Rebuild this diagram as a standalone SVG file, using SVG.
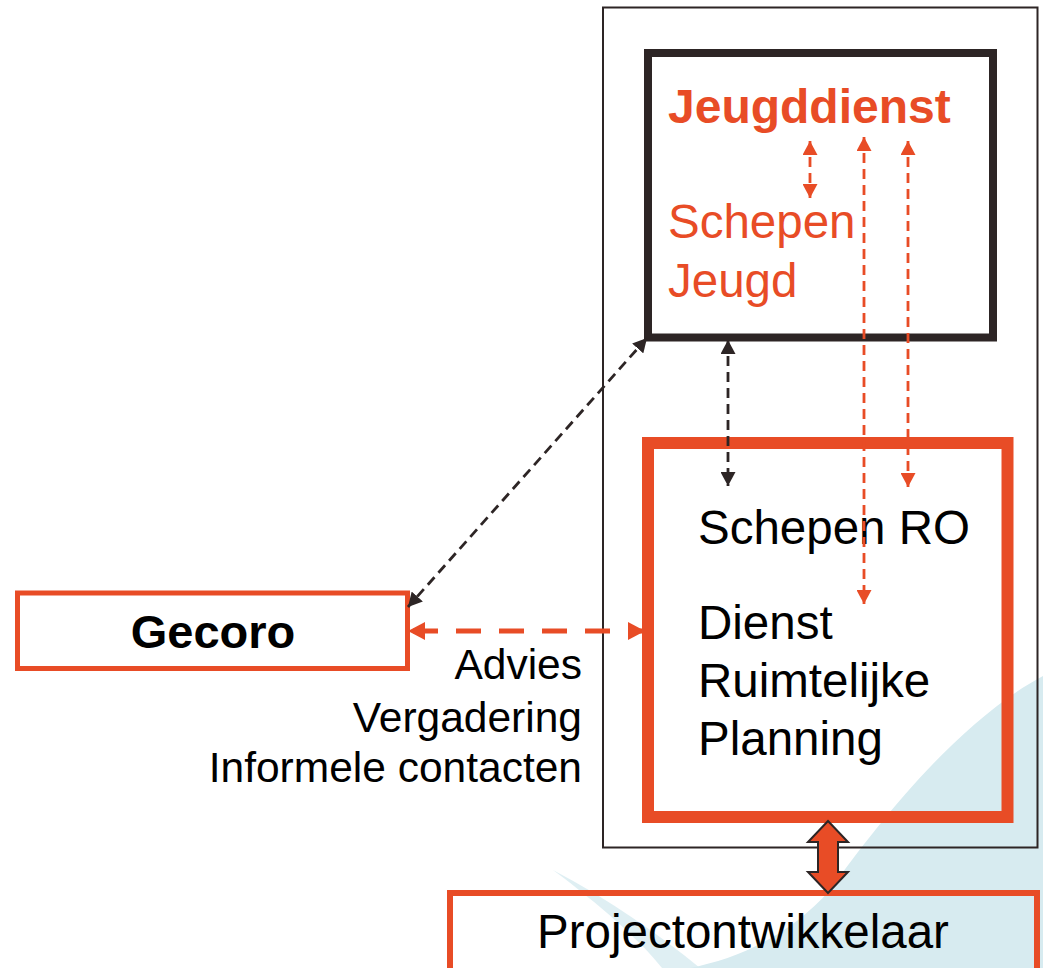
<svg xmlns="http://www.w3.org/2000/svg" width="1043" height="968" viewBox="0 0 1043 968">
<style>
.or{fill:#e84c26}
.dk{fill:#000}
text{font-family:"Liberation Sans",Arial,sans-serif}
.box{fill:none}
.dash-or{stroke:#e84c26;stroke-width:2.8;stroke-dasharray:10 6;fill:none}
.dash-dk{stroke:#2d2525;stroke-width:2.8;stroke-dasharray:10 6;fill:none}
</style>
<defs>
<marker id="aOr" viewBox="0 0 14 15" refX="14" refY="7.5" markerWidth="14" markerHeight="15" markerUnits="userSpaceOnUse" orient="auto-start-reverse"><path d="M0,0 L14,7.5 L0,15 z" fill="#e84c26"/></marker>
<marker id="aDk" viewBox="0 0 14 15" refX="14" refY="7.5" markerWidth="14" markerHeight="15" markerUnits="userSpaceOnUse" orient="auto-start-reverse"><path d="M0,0 L14,7.5 L0,15 z" fill="#2d2525"/></marker>
<marker id="aOrBig" viewBox="0 0 17 18" refX="17" refY="9" markerWidth="17" markerHeight="18" markerUnits="userSpaceOnUse" orient="auto-start-reverse"><path d="M0,0 L17,9 L0,18 z" fill="#e84c26"/></marker>
</defs>
<rect width="1043" height="968" fill="#fff"/>
<g id="background">
<path d="M1043 676 C 960 720, 880 820, 830 890 C 790 935, 740 958, 690 968 L1043 968 Z" fill="#d7ebf0"/>
<path d="M553 870 C 600 905, 640 940, 662 968 L 700 968 C 660 935, 610 900, 553 870 Z" fill="#d7ebf0" opacity="0.8"/>
</g>
<g id="outer-frame"><rect x="603" y="7.5" width="434.5" height="840" fill="none" stroke="#2d2525" stroke-width="2"/></g>
<g id="node-jeugddienst">
<rect class="box" x="648" y="53" width="345" height="284.5" stroke="#2d2525" stroke-width="8"/>
<text x="668" y="123" font-size="48" font-weight="bold" class="or">Jeugddienst</text>
<text x="668" y="238" font-size="47.5" class="or">Schepen</text>
<text x="668" y="297" font-size="47.5" class="or">Jeugd</text>
</g>
<g id="node-dienst-ro">
<rect class="box" x="648" y="443" width="359.5" height="374" stroke="#e84c26" stroke-width="12"/>
<text x="698" y="544" font-size="47.5" class="dk">Schepen RO</text>
<text x="698" y="639" font-size="47.5" class="dk">Dienst</text>
<text x="698" y="697" font-size="47.5" class="dk">Ruimtelijke</text>
<text x="698" y="755" font-size="47.5" class="dk">Planning</text>
</g>
<g id="node-gecoro">
<rect class="box" x="17.5" y="593" width="390" height="75.5" stroke="#e84c26" stroke-width="5"/>
<text x="213" y="648" font-size="47" font-weight="bold" text-anchor="middle" class="dk">Gecoro</text>
</g>
<g id="label-gecoro-link">
<text x="582" y="679" font-size="42.5" text-anchor="end" class="dk">Advies</text>
<text x="582" y="732" font-size="42.5" text-anchor="end" class="dk">Vergadering</text>
<text x="582" y="782" font-size="42.5" text-anchor="end" class="dk">Informele contacten</text>
</g>
<g id="node-projectontwikkelaar">
<rect class="box" x="450" y="893" width="587" height="80" stroke="#e84c26" stroke-width="6"/>
<text x="743" y="948" font-size="47.5" text-anchor="middle" class="dk">Projectontwikkelaar</text>
</g>
<g id="connectors">
<line class="dash-or" x1="810" y1="141" x2="810" y2="198" marker-start="url(#aOr)" marker-end="url(#aOr)"/>
<line class="dash-or" x1="864" y1="137" x2="864" y2="604" marker-start="url(#aOr)" marker-end="url(#aOr)"/>
<line class="dash-or" x1="908" y1="141" x2="908" y2="487" marker-start="url(#aOr)" marker-end="url(#aOr)"/>
<line class="dash-dk" x1="728" y1="340" x2="728" y2="486" marker-start="url(#aDk)" marker-end="url(#aDk)"/>
<line class="dash-dk" x1="647" y1="338" x2="408" y2="607" marker-start="url(#aDk)" marker-end="url(#aDk)"/>
<line x1="408" y1="631" x2="645" y2="631" stroke="#e84c26" stroke-width="5" stroke-dasharray="25 18" stroke-dashoffset="-5" marker-start="url(#aOrBig)" marker-end="url(#aOrBig)"/>
<polygon points="828,821 848,842 838,842 838,872 848,872 828,893 808,872 818,872 818,842 808,842" fill="#e84c26" stroke="#2d2525" stroke-width="2"/>
</g>
</svg>
